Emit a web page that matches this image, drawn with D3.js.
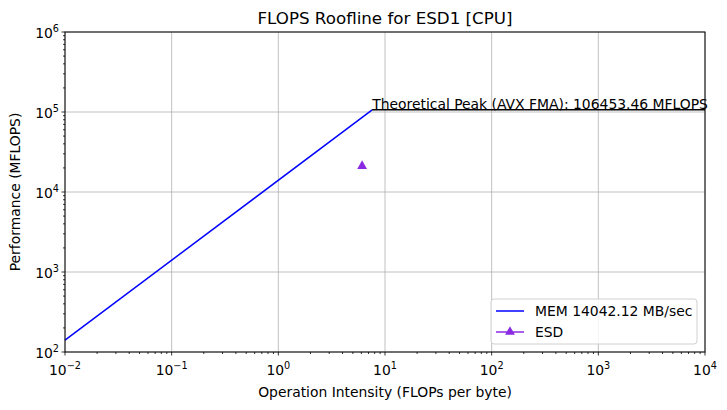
<!DOCTYPE html>
<meta charset="utf-8">
<style>
    body { margin: 0; background: #fff; }
    svg { font-family: "DejaVu Sans", sans-serif; }
    .grid line { stroke: #b0b0b0; stroke-width: 0.8px; }
    .axis path, .axis line { stroke: #000; }
</style>
<body>
<script src="https://d3js.org/d3.v7.min.js"></script>
<script>

    var bandwidth = 14042.12;      // MB/sec
    var peak = 106453.46;          // MFLOPS
    var xDomain = [1e-2, 1e4];
    var yDomain = [1e2, 1e6];
    var xTicks = [-2, -1, 0, 1, 2, 3, 4];
    var yTicks = [2, 3, 4, 5, 6];
    var appLabels = ["ESD"];
    var appIntensity = [6.1];
    var appPerf = [21100];

    var width = 727, height = 410;
    var margin = { left: 65, right: 22, top: 32, bottom: 58 };
    var fs = 13.9;

    var svg = d3.select("body").append("svg")
        .attr("width", width)
        .attr("height", height);

    var x = d3.scaleLog().domain(xDomain).range([margin.left, width - margin.right]);
    var y = d3.scaleLog().domain(yDomain).range([height - margin.bottom, margin.top]);

    // grid
    var grid = svg.append("g").attr("class", "grid");
    grid.selectAll("line.gx").data(xTicks).enter().append("line")
        .attr("x1", function (d) { return x(Math.pow(10, d)); })
        .attr("x2", function (d) { return x(Math.pow(10, d)); })
        .attr("y1", y.range()[0]).attr("y2", y.range()[1]);
    grid.selectAll("line.gy").data(yTicks).enter().append("line")
        .attr("y1", function (d) { return y(Math.pow(10, d)); })
        .attr("y2", function (d) { return y(Math.pow(10, d)); })
        .attr("x1", x.range()[0]).attr("x2", x.range()[1]);

    // roofline
    var ridge = peak / bandwidth;
    var memLine = [[xDomain[0], bandwidth * xDomain[0]], [ridge, peak]];
    var line = d3.line().x(function (d) { return x(d[0]); }).y(function (d) { return y(d[1]); });

    svg.append("path").datum(memLine)
        .attr("d", line)
        .attr("fill", "none").attr("stroke", "#0000ff").attr("stroke-width", 1.5);

    svg.append("path").datum([[ridge, peak], [xDomain[1], peak]])
        .attr("d", line)
        .attr("fill", "none").attr("stroke", "#000").attr("stroke-width", 1.5);

    svg.append("text")
        .attr("x", x(ridge)).attr("y", y(peak) - 1)
        .attr("font-size", fs)
        .text("Theoretical Peak (AVX FMA): " + peak.toFixed(2) + " MFLOPS");

    // application points
    var tri = d3.symbol().type(d3.symbolTriangle).size(42);
    svg.selectAll("path.app").data(appLabels).enter().append("path")
        .attr("class", "app")
        .attr("d", tri)
        .attr("transform", function (d, i) { return "translate(" + x(appIntensity[i]) + "," + y(appPerf[i]) + ")"; })
        .attr("fill", "#8a2be2");

    // frame
    svg.append("rect")
        .attr("x", x.range()[0]).attr("y", y.range()[1])
        .attr("width", x.range()[1] - x.range()[0])
        .attr("height", y.range()[0] - y.range()[1])
        .attr("fill", "none").attr("stroke", "#000").attr("stroke-width", 1);

    // axes with minor ticks
    function minorTicks(lo, hi) {
        var t = [];
        for (var e = lo; e < hi; e++)
            for (var m = 1; m <= 9; m++) t.push(m * Math.pow(10, e));
        t.push(Math.pow(10, hi));
        return t;
    }
    function isMajor(d) {
        return Math.abs(Math.log10(d) - Math.round(Math.log10(d))) < 1e-9;
    }
    function supLabel(sel, e) {
        sel.text("10");
        sel.append("tspan").attr("dy", -6).attr("font-size", 9.7)
            .text(e < 0 ? "\u2212" + (-e) : e);
    }

    var xMinor = minorTicks(-2, 4);
    var yMinor = minorTicks(2, 6);
    var y0 = y.range()[0], x0 = x.range()[0];

    var ax = svg.append("g").attr("class", "axis");
    ax.selectAll("line.xm").data(xMinor).enter().append("line")
        .attr("x1", function (d) { return x(d); }).attr("x2", function (d) { return x(d); })
        .attr("y1", y0).attr("y2", function (d) { return isMajor(d) ? y0 + 3.5 : y0 + 2; })
        .attr("stroke", "#000").attr("stroke-width", 0.8);
    ax.selectAll("line.ym").data(yMinor).enter().append("line")
        .attr("y1", function (d) { return y(d); }).attr("y2", function (d) { return y(d); })
        .attr("x1", x0).attr("x2", function (d) { return isMajor(d) ? x0 - 3.5 : x0 - 2; })
        .attr("stroke", "#000").attr("stroke-width", 0.8);

    ax.selectAll("text.xl").data(xTicks).enter().append("text")
        .attr("x", function (d) { return x(Math.pow(10, d)); })
        .attr("y", y0 + 23)
        .attr("text-anchor", "middle").attr("font-size", fs)
        .each(function (d) { supLabel(d3.select(this), d); });
    ax.selectAll("text.yl").data(yTicks).enter().append("text")
        .attr("x", x0 - 6)
        .attr("y", function (d) { return y(Math.pow(10, d)) + 6; })
        .attr("text-anchor", "end").attr("font-size", fs)
        .each(function (d) { supLabel(d3.select(this), d); });

    // titles
    svg.append("text")
        .attr("x", (x.range()[0] + x.range()[1]) / 2).attr("y", 24)
        .attr("text-anchor", "middle").attr("font-size", 16.7)
        .text("FLOPS Roofline for ESD1 [CPU]");
    svg.append("text")
        .attr("x", (x.range()[0] + x.range()[1]) / 2).attr("y", 397)
        .attr("text-anchor", "middle").attr("font-size", fs)
        .text("Operation Intensity (FLOPs per byte)");
    svg.append("text")
        .attr("transform", "translate(20," + ((y.range()[0] + y.range()[1]) / 2) + ") rotate(-90)")
        .attr("text-anchor", "middle").attr("font-size", fs)
        .text("Performance (MFLOPS)");

    // legend
    var lg = svg.append("g").attr("transform", "translate(491,299)");
    lg.append("rect").attr("width", 206).attr("height", 45).attr("rx", 3)
        .attr("fill", "#fff").attr("fill-opacity", 0.8)
        .attr("stroke", "#d0d0d0");
    var items = [
        { label: "MEM " + bandwidth.toFixed(2) + " MB/sec", color: "#0000ff", marker: false },
        { label: appLabels[0], color: "#8a2be2", marker: true }
    ];
    items.forEach(function (it, i) {
        var yy = 12 + i * 21;
        lg.append("line").attr("x1", 5).attr("x2", 33).attr("y1", yy).attr("y2", yy)
            .attr("stroke", it.color).attr("stroke-width", 1.5);
        if (it.marker)
            lg.append("path").attr("d", tri).attr("transform", "translate(19," + yy + ")").attr("fill", it.color);
        lg.append("text").attr("x", 44).attr("y", yy + 5).attr("font-size", fs).text(it.label);
    });
</script>
</body>
